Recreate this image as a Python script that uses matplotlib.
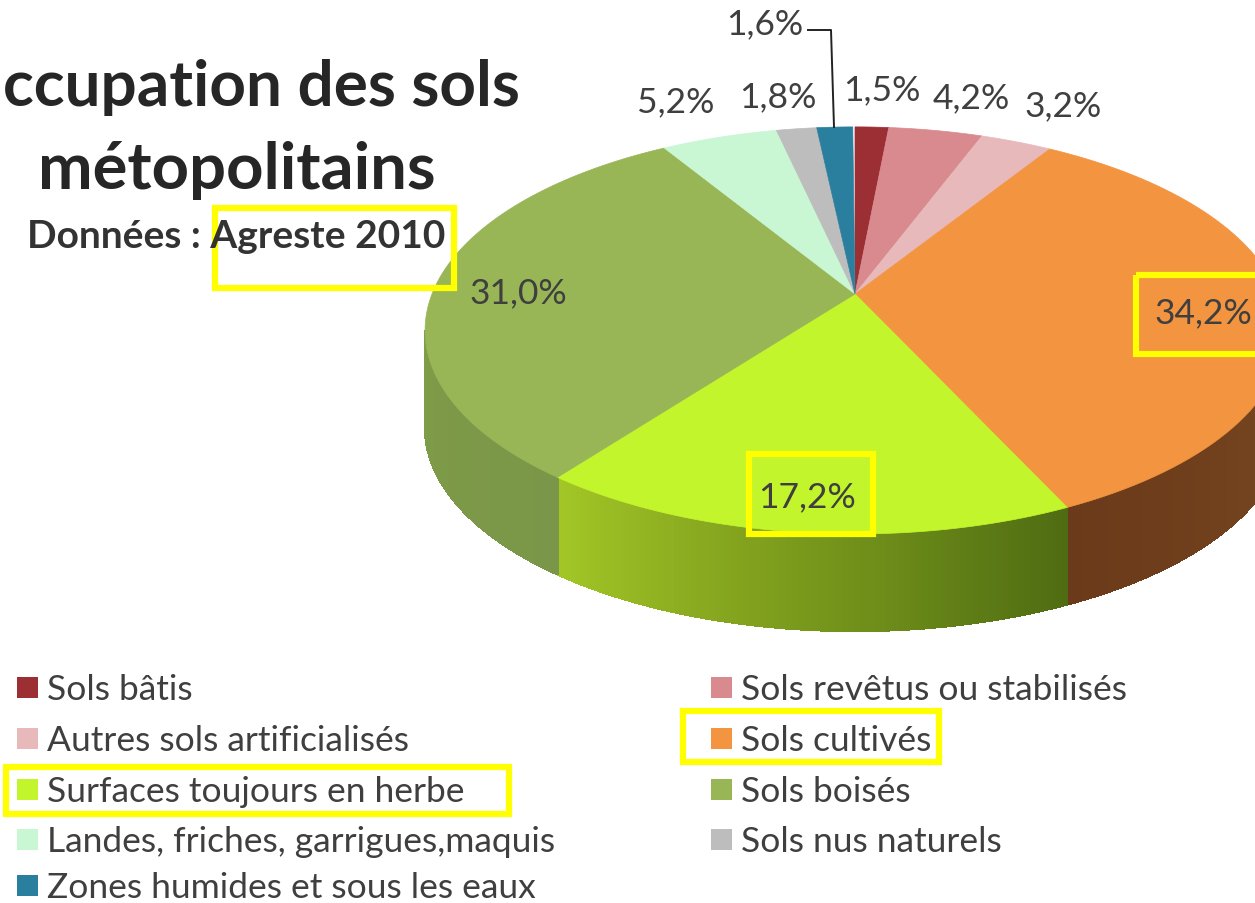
import numpy as np
import matplotlib
matplotlib.use("Agg")
import matplotlib.pyplot as plt
from matplotlib.patches import Polygon, Rectangle

plt.rcParams['font.family'] = ['Lato', 'DejaVu Sans']

# data
categories = ["Sols bâtis", "Sols revêtus ou stabilisés", "Autres sols artificialisés",
              "Sols cultivés", "Surfaces toujours en herbe", "Sols boisés",
              "Landes, friches, garrigues,maquis", "Sols nus naturels",
              "Zones humides et sous les eaux"]
values = [1.5, 4.2, 3.2, 34.2, 17.2, 31.0, 5.2, 1.8, 1.6]
value_labels = ["1,5%", "4,2%", "3,2%", "34,2%", "17,2%", "31,0%", "5,2%", "1,8%", "1,6%"]

# styles
colors = ["#9c2f33", "#d98a8e", "#e8b9bb", "#f29440", "#c3f52c", "#98b656",
          "#c9f6d3", "#bdbdbd", "#2b7f9e"]
side_left = ["#5a1a1c", "#8a5557", "#9a7577", "#6a3a1a", "#a3c626", "#7f9c48",
             "#8ab090", "#808080", "#1c5a70"]
side_right = ["#5a1a1c", "#8a5557", "#9a7577", "#7a4a22", "#4f6c12", "#7a9648",
              "#8ab090", "#808080", "#1c5a70"]
label_pos = [(882, 90), (971, 98), (1063, 106), (1203, 313), (807, 497), (518, 293),
             (676, 102), (778, 97), (765, 24)]
legend_pos = [(17, 690), (711, 690), (17, 741), (711, 741), (17, 792), (711, 792),
              (17, 842), (711, 842), (17, 888)]
boxes = [(215, 209, 239, 80), (1136, 276, 125, 79), (749, 455, 124, 80),
         (683, 712, 256, 51), (6, 768, 503, 47)]

# pie projection, tilted disc with perspective
cx, cy = 855, 295
k, a, b = 0.179, 197, 423
depth = 97


def project(t):
    u, v = np.sin(t), np.cos(t)
    d = 1 + k * v
    return cx + b * u / d, cy - a * v / d


fig = plt.figure(figsize=(12.55, 9.04), dpi=100)
ax = fig.add_axes([0, 0, 1, 1])
ax.set_xlim(0, 1255)
ax.set_ylim(904, 0)
ax.axis("off")

edges = np.radians(np.cumsum([0] + values) * 3.6)

# side wall, only the front arc can be seen
vis0, vis1 = np.radians(100.3), np.radians(259.7)
for i in range(len(values)):
    t0, t1 = max(edges[i], vis0), min(edges[i + 1], vis1)
    if t1 <= t0:
        continue
    ts = np.linspace(t0, t1, 90)
    c0 = np.array(matplotlib.colors.to_rgb(side_right[i]))
    c1 = np.array(matplotlib.colors.to_rgb(side_left[i]))
    for j in range(len(ts) - 1):
        x0, y0 = project(ts[j])
        x1, y1 = project(ts[j + 1])
        f = j / (len(ts) - 2)
        ax.add_patch(Polygon([(x0, y0), (x1, y1), (x1, y1 + depth), (x0, y0 + depth)],
                             fc=c0 + (c1 - c0) * f, ec=c0 + (c1 - c0) * f, lw=1.0,
                             antialiased=False))

# top face
for i in range(len(values)):
    ts = np.linspace(edges[i], edges[i + 1], 80)
    x, y = project(ts)
    pts = np.column_stack([np.r_[cx, x], np.r_[cy, y]])
    ax.add_patch(Polygon(pts, fc=colors[i], ec=colors[i], lw=0.5))

txt = "#3f3f3f"
for s, (x, y) in zip(value_labels, label_pos):
    ax.text(x, y, s, ha="center", va="center", fontsize=25.5, color=txt)
ax.plot([808, 831, 834], [31, 31, 128], color="#222222", lw=1.4)

for name, col, (x, y) in zip(categories, colors, legend_pos):
    ax.add_patch(Rectangle((x, y - 12), 21, 21, fc=col, ec="none"))
    ax.text(x + 30, y, name, ha="left", va="center", fontsize=25.5, color=txt)

ax.text(261, 88, "ccupation des sols", ha="center", va="center", fontsize=46,
        fontweight="bold", color="#262626")
ax.text(237, 170, "métopolitains", ha="center", va="center", fontsize=47,
        fontweight="bold", color="#262626")
ax.text(236, 237, "Données : Agreste 2010", ha="center", va="center", fontsize=28,
        fontweight="bold", color="#333333")

for x, y, w, h in boxes:
    ax.add_patch(Rectangle((x, y), w, h, fc="none", ec="#ffff00", lw=4.5))

fig.savefig("out.png", dpi=100)
